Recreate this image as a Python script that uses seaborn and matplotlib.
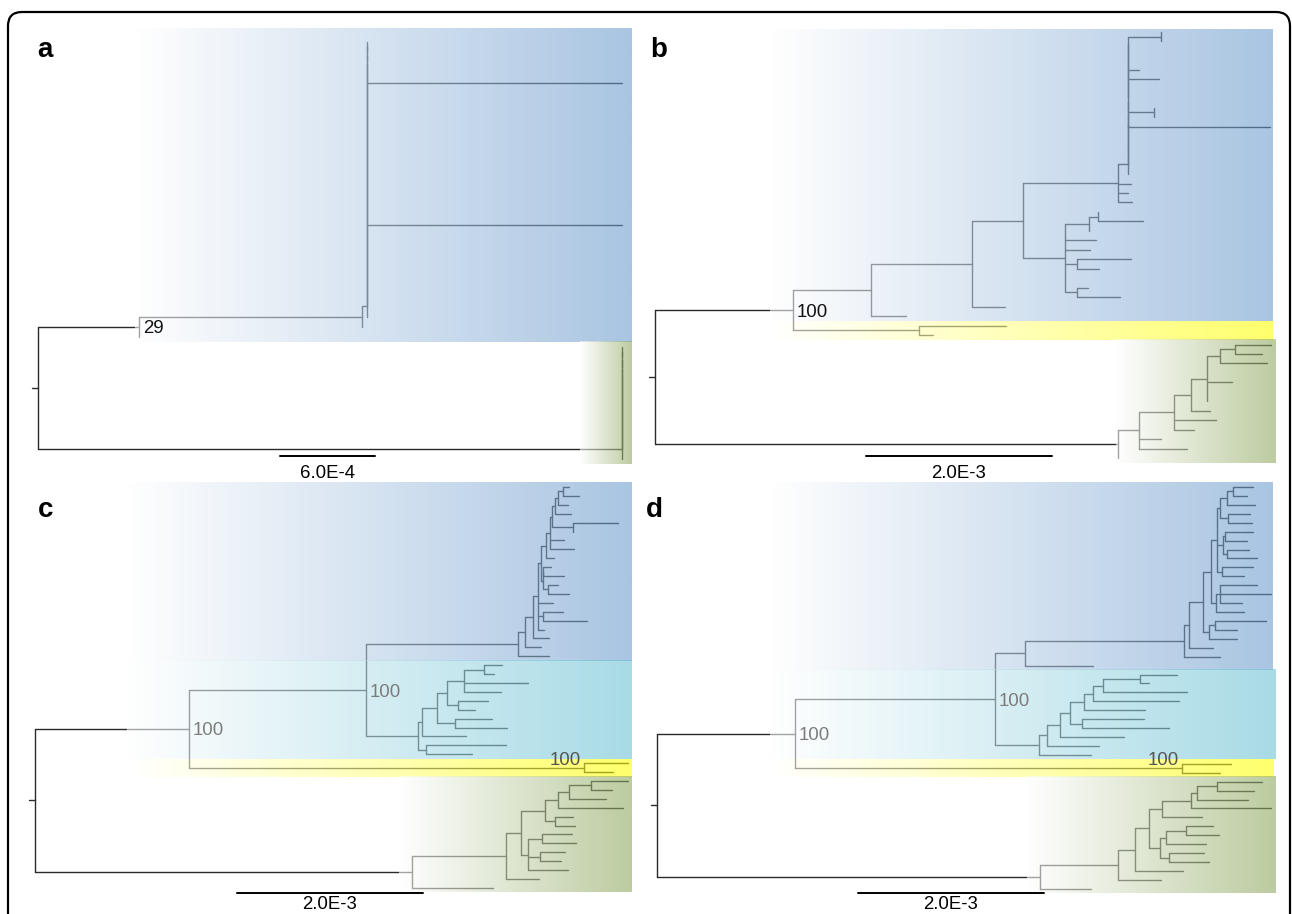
import numpy as np
import pandas as pd
import seaborn as sns
import matplotlib
import matplotlib.pyplot as plt
from matplotlib.patches import FancyBboxPatch
plt.switch_backend('Agg')

sns.set_style("white")
matplotlib.rcParams['font.family'] = ['Liberation Sans', 'DejaVu Sans']


# ---- tree helpers -------------------------------------------------------
# a node is N(branch_length, child, child, ...); a bare number is a tip (its branch length)
def N(L, *kids, label=""):
    return {"len": L, "label": label,
            "kids": [k if isinstance(k, dict) else {"len": k, "label": "", "kids": []} for k in kids]}


def ladder(L, items):
    # caterpillar with zero-length internal branches (identical sequences)
    node = N(0, items[0], items[1])
    for it in items[2:-1]:
        node = N(0, node, it)
    return N(L, node, items[-1])


# ---- data: branch lengths in scale-bar units -----------------------------
# panel a: 95 units = 6.0E-4 ; panels b-d: 186 units = 2.0E-3
A_COMB = [0, 0, 0, 0, 255, 0, 0, 0, 0, 0, 0, 0, 0, 0,
          0, 0, 0, 0, 255, 0, 0, 0, 0, 0, 0, 0, 0, 0]
A_OUT = [0, 0, 0, 0, 0, 0, 0, 0, 0, 0, 0, 0]

B_COMB = [N(33, 0, 0), 0, 0, 11, 31, 0, 0, N(26, 0, 0), 142, 0, 0, 0, 0, 0]
b_d = N(95, ladder(10, B_COMB), 13, 10, 14)
b_f = N(42, N(24, N(9, 0, 45), 0), 31, 25, N(12, 54, 22), 0, N(12, 11, 43))
b_blue = N(78, N(101, N(51, b_d, b_f), 33), 35)
b_yellow = N(126, 87, 14)
b_green = N(463, N(21, N(35, N(17, N(16, N(13, N(15, 36, 27), 47), 0, 25, 0, 0), 19),
                         42, 20), 22, 48), 0)

c_up = N(3, N(5, N(4, N(2, N(3, N(3, N(5, 6, 16), 10), 16), N(21, 45, 0)), 14, 24), 8),
         N(2, N(0, 8, 21), N(5, 10, 21)))
c_blue = N(152, N(7, N(8, N(5, c_up, 15, N(5, 20, 44), 6), 16), 16), 31)
c_cyan = N(52, N(4, N(15, N(10, N(17, N(20, 18, 10), 64, 37), N(11, 30, 17)),
                      N(18, 37, 52)), 44), N(8, 80, 46))
c_yellow = N(395, 44, 29, label="100")
c_green = N(377, N(94, N(15, N(24, N(13, N(11, N(22, 37, 21), 37), 65), N(10, 18, 20)),
                         N(7, N(14, 30, 34), N(12, 25, 21), 40)), 33), 81)

d_b5 = N(6, N(3, N(7, N(6, 20, 14), 28), N(8, 22, 24)),
         N(6, N(2, 28, 22), N(4, 22, 30)), N(5, 31, 22))
d_blue = N(159, N(5, N(14, N(8, d_b5, N(5, N(4, 37, 51, 22), 28)),
                        N(6, N(6, 51, 22), 28)), 24), 36)
d_cyan = N(44, N(8, N(13, N(10, N(14, N(9, N(10, N(37, 37, 9), 84), 86), 61),
                              N(12, 62, 87)), 64), 52), 52)
d_yellow = N(387, 49, 38, label="100")
d_green = N(383, N(78, N(17, N(14, N(13, N(29, N(6, N(20, 45, 37), 51), 80), 40),
                              N(11, N(6, N(20, 27, 33), 40), N(9, 35, 40))), 48), 43), 51)

TREES = {
    "a": N(0, N(101, N(223, ladder(5, A_COMB), 0), 0, label="29"), ladder(584, A_OUT)),
    "b": N(0, N(138, b_blue, b_yellow, label="100"), b_green),
    "c": N(0, N(154, N(177, c_blue, c_cyan, label="100"), c_yellow, label="100"), c_green),
    "d": N(0, N(138, N(200, N(30, d_blue, 68), d_cyan, label="100"), d_yellow, label="100"), d_green),
}
SCALE_TEXT = {"a": "6.0E-4", "b": "2.0E-3", "c": "2.0E-3", "d": "2.0E-3"}
SCALE_LEN = {"a": 95, "b": 186, "c": 186, "d": 186}

# clades shaded behind the trees: (first tip, last tip, colour)
BANDS = {
    "a": [(0, 29, "blue"), (30, 41, "green")],
    "b": [(0, 30, "blue"), (31, 32, "yellow"), (33, 45, "green")],
    "c": [(0, 19, "blue"), (20, 30, "cyan"), (31, 32, "yellow"), (33, 45, "green")],
    "d": [(0, 20, "blue"), (21, 30, "cyan"), (31, 32, "yellow"), (33, 45, "green")],
}

# ---- layout (pixels of the 1292x914 page) --------------------------------
PANEL = {  # root x, first tip y, tip spacing, letter pos, scale bar pos, label colour
    "a": dict(root=38, y0=42, step=10.17, letter=(37, 57), bar=(280, 456), lab_dy=9, col="#111111"),
    "b": dict(root=655, y0=32, step=9.47, letter=(650, 57), bar=(866, 456), lab_dy=9, col="#111111"),
    "c": dict(root=35, y0=487, step=8.91, letter=(38, 517), bar=(237, 893), lab_dy=3, col="#7c7c7c"),
    "d": dict(root=657, y0=487, step=8.93, letter=(646, 517), bar=(858, 893), lab_dy=3, col="#7c7c7c"),
}
BAND_X = {
    "a": {"blue": (135, 632), "green": (580, 632)},
    "b": {"blue": (770, 1273), "yellow": (770, 1273), "green": (1116, 1276)},
    "c": {"blue": (127, 632), "cyan": (127, 632), "yellow": (127, 632), "green": (399, 632)},
    "d": {"blue": (770, 1273), "cyan": (770, 1276), "yellow": (770, 1274), "green": (1027, 1276)},
}
BAND_TOP = {"a": 29, "b": 29}
OVERLAY_ALPHA = 0.58
COLOURS = {"blue": (107, 155, 205), "cyan": (105, 193, 212),
           "yellow": (255, 255, 0), "green": (140, 166, 91)}


def layout(n, x0, counter, y0, step):
    n["x"] = x0 + n["len"]
    if not n["kids"]:
        n["y"] = y0 + counter[0] * step
        counter[0] += 1
    else:
        for k in n["kids"]:
            layout(k, n["x"], counter, y0, step)
        n["y"] = (n["kids"][0]["y"] + n["kids"][-1]["y"]) / 2


def segments(n, rows, parent=None):
    if parent is not None:
        rows.append((parent["x"], n["y"], n["x"], n["y"]))
    if n["kids"]:
        rows.append((n["x"], n["kids"][0]["y"], n["x"], n["kids"][-1]["y"]))
        for k in n["kids"]:
            segments(k, rows, n)


def labelled(n, out):
    if n["label"]:
        out.append(n)
    for k in n["kids"]:
        labelled(k, out)


def band(ax, x0, x1, y0, y1, rgb):
    t = np.linspace(0, 1, 256)
    c = np.array(rgb) / 255.0
    img = np.ones((2, 256, 4))
    img[:, :, :3] = (1 - t)[None, :, None] + t[None, :, None] * c[None, None, :]
    img[:, :, 3] = OVERLAY_ALPHA
    ax.imshow(img, extent=(x0, x1, y1, y0), aspect="auto",
              interpolation="bilinear", zorder=3)


fig = plt.figure(figsize=(12.92, 9.14), dpi=100)
ax = fig.add_axes([0, 0, 1, 1])

rows = []
for key, tree in TREES.items():
    p = PANEL[key]
    tree["len"] = 0
    layout(tree, p["root"], [0], p["y0"], p["step"])
    rows.append((p["root"] - 6, tree["y"], p["root"], tree["y"]))
    segments(tree, rows)

df = pd.DataFrame(
    [(i, x, y) for i, r in enumerate(rows) for x, y in ((r[0], r[1]), (r[2], r[3]))],
    columns=["seg", "x", "y"])
sns.lineplot(data=df, x="x", y="y", units="seg", estimator=None, sort=False,
             color="#2a2a2a", linewidth=1.0, ax=ax, legend=False, zorder=2)

for key, tree in TREES.items():
    p = PANEL[key]
    for first, last, cname in BANDS[key]:
        y0 = p["y0"] + (first - 0.5) * p["step"]
        y1 = p["y0"] + (last + 0.5) * p["step"]
        if first == 0 and key in BAND_TOP:
            y0 = BAND_TOP[key]
        x0, x1 = BAND_X[key][cname]
        band(ax, x0, x1, y0, y1, COLOURS[cname])

    nodes = []
    labelled(tree, nodes)
    for n in nodes:
        cherry = all(not k["kids"] for k in n["kids"])
        if cherry:
            ax.text(n["x"] - 3, n["y"] - 3, n["label"], ha="right", va="baseline",
                    fontsize=13.4, color="#555555" if key in "cd" else p["col"], zorder=6)
        else:
            ax.text(n["x"] + 4, n["y"] + 2, n["label"], ha="left", va="center",
                    fontsize=13.4, color=p["col"], zorder=6)

    ax.text(*p["letter"], key, fontsize=20, fontweight="bold", ha="left",
            va="baseline", color="black", zorder=6)
    bx, by = p["bar"]
    ax.plot([bx, bx + SCALE_LEN[key]], [by, by], color="black", lw=1.4, zorder=6)
    ax.text(bx + SCALE_LEN[key] / 2, by + p["lab_dy"], SCALE_TEXT[key], ha="center",
            va="top", fontsize=13.4, color="black", zorder=6)

frame = FancyBboxPatch((8, 12), 1282, 940, boxstyle="round,pad=0,rounding_size=14",
                       fill=False, ec="black", lw=1.6, zorder=7, clip_on=False)
ax.add_patch(frame)

ax.set_xlim(0, 1292)
ax.set_ylim(914, 0)
ax.set_axis_off()

fig.savefig("out.png", dpi=100)
